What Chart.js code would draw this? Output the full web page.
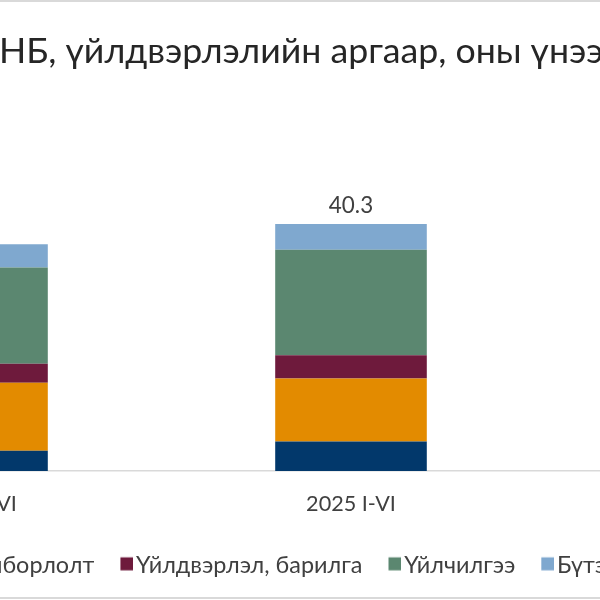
<!DOCTYPE html>
<html lang="mn">
<head>
<meta charset="utf-8">
<title>ДНБ, үйлдвэрлэлийн аргаар</title>
<script src="https://cdn.jsdelivr.net/npm/chart.js@4.4.1/dist/chart.umd.min.js"></script>
<style>
html,body{margin:0;padding:0;width:600px;height:600px;overflow:hidden;background:#fff;}
#c{position:absolute;top:0;}
.frame{position:absolute;left:0;width:600px;height:2px;background:#D9D9D9;}
</style>
</head>
<body>
<canvas id="c"></canvas>
<div class="frame" style="top:0"></div>
<div class="frame" style="top:597px"></div>
<script>
// ---------------- data ----------------
const categories = ['2024 I-VI', '2025 I-VI', ''];
const seriesNames = ['Хөдөө аж ахуй', 'Уул уурхай, олборлолт', 'Үйлдвэрлэл, барилга', 'Үйлчилгээ', 'Бүтээгдэхүүний цэвэр татвар'];
const agriculture   = [3.3, 4.8, null];
const mining        = [11.1, 10.3, null];
const manufacturing = [3.1, 3.8, null];
const services      = [15.7, 17.2, null];
const netTaxes      = [3.8, 4.2, null];
const titleText = 'ДНБ, үйлдвэрлэлийн аргаар, оны үнээр';
const yMin = 0, yMax = 50;

// ---------------- styles ----------------
const seriesValues = [agriculture, mining, manufacturing, services, netTaxes];
const seriesColors = ['#02386B', '#E38B00', '#6E1A3C', '#5B8770', '#7FA8CF'];
const textColor = '#404040', titleColor = '#262626';

// layout targets (page px)
const LT = {
  titleInkLeft: 2, titleVisibleInk: 600, titleCapCenter: 50.5,
  tickInk: 87, tickCenter: 503.5,
  totalInk: 43, totalGap: 19.8,
  legendInk: 225, legendCenter: 564.3, legendBoxCenter: 563.8,
  legendTextInk: [134.7, 406.8, 557.6],
  boxGap: 2.5, boxSize: 13,
  plotLeft: -217.5, plotRight: 919.5, plotTop: 164.5, plotBottom: 471, height: 600
};

// ---------------- font choice ----------------
function hasCyr(fam) {
  const c = document.createElement('canvas').getContext('2d');
  for (const ch of 'ДНБүйлдвэрҮөЭбг') {
    let same = true;
    for (const fb of ['monospace', 'serif']) {
      c.font = '60px ' + fb; const a = c.measureText(ch).width;
      c.font = '60px "' + fam + '", ' + fb; const b = c.measureText(ch).width;
      if (Math.abs(a - b) > 0.01) same = false;
    }
    if (same) return false;
  }
  return true;
}
const FAM = ['Lato', 'Roboto', 'Noto Sans', 'Open Sans', 'Liberation Sans'].find(hasCyr) || 'sans-serif';
const famCss = FAM === 'sans-serif' ? 'sans-serif' : '"' + FAM + '"';
const mctx = document.createElement('canvas').getContext('2d');
function setFont(size) { mctx.font = 'normal ' + size + 'px ' + famCss; }
function measure(text, size, baseline) { setFont(size); mctx.textBaseline = baseline || 'alphabetic'; const m = mctx.measureText(text); mctx.textBaseline = 'alphabetic'; return m; }
function ink(text, size) { const m = measure(text, size); return m.actualBoundingBoxLeft + m.actualBoundingBoxRight; }
function fit(text, target) { return 100 * target / ink(text, 100); }
function midOff(text, size) { const m = measure(text, size, 'middle'); return (m.actualBoundingBoxDescent - m.actualBoundingBoxAscent) / 2; }
function totalAt(i) { const v = seriesValues.map(s => s[i]); return v.some(x => x == null) ? null : v.reduce((a, b) => a + b, 0); }

// ---------------- sizes ----------------
const fsT = fit(titleText.slice(1, -1), LT.titleVisibleInk);
const fsX = fit(categories[1], LT.tickInk);
const totalLabel = totalAt(1).toFixed(1);
const fsD = fit(totalLabel, LT.totalInk);
const fsL = fit(seriesNames[2], LT.legendInk);

// title horizontal centre
setFont(fsT);
const Tw = mctx.measureText(titleText).width;
const wFirst = mctx.measureText(titleText[0]).width;
const ablSecond = mctx.measureText(titleText[1]).actualBoundingBoxLeft;
const C = (LT.titleInkLeft - wFirst + ablSecond) + Tw / 2;

// legend geometry
setFont(fsL);
const tw = seriesNames.map(s => mctx.measureText(s).width);
const abl = seriesNames.map(s => mctx.measureText(s).actualBoundingBoxLeft);
const w = tw.map(t => LT.boxSize + fsL / 2 + t);
const t3 = LT.legendTextInk[0] + abl[2], t4 = LT.legendTextInk[1] + abl[3], t5 = LT.legendTextInk[2] + abl[4];
const P = ((t4 - t3 - w[2]) + (t5 - t4 - w[3])) / 2;
const t3fit = (t3 + (t4 - w[2] - P) + (t5 - w[2] - w[3] - 2 * P)) / 3;
let X0 = t3fit - 3 * P - w[0] - w[1] - LT.boxSize - fsL / 2;
if (X0 > LT.plotLeft) X0 = LT.plotLeft;
const Lc = Math.round(X0);
let Wc = Math.round(2 * (C - Lc));
if (Lc + Wc < LT.plotRight) Wc = Math.ceil(LT.plotRight - Lc);
const yL = LT.plotLeft - Lc;
const yR = Lc + Wc - LT.plotRight;

// vertical geometry
const ymT = LT.titleCapCenter - midOff(titleText[1], fsT);
const titlePadTop = ymT - fsT / 2;
const titlePadBottom = LT.plotTop - fsT - titlePadTop;
const ymX = LT.tickCenter - midOff(categories[1].slice(0, 4), fsX);
const tickPad = ymX - fsX / 2 - LT.plotBottom;
const totalOffset = LT.totalGap + midOff(totalLabel, fsD);
const ymL = LT.legendCenter - midOff(seriesNames[2][0], fsL);
const legTop = ymL - fsL / 2 - P;
const legH = fsL + P + 10;
const padBottom = Math.max(0, LT.height - legTop - legH);
const xAxisH = legTop - LT.plotBottom;

// legend square images
const dy = LT.legendBoxCenter - ymL;
const Wi = Math.round(LT.boxSize + fsL - 2 * LT.boxGap);
const Hi = LT.boxSize + 2 * Math.ceil(Math.abs(dy)) + 2;
const sqTop = Hi / 2 + dy - LT.boxSize / 2;
function makeBox(color) {
  const c = document.createElement('canvas'); c.width = Wi; c.height = Hi;
  const g = c.getContext('2d'); g.fillStyle = color; g.fillRect(Wi - LT.boxSize, sqTop, LT.boxSize, LT.boxSize);
  return c;
}

// ---------------- chart ----------------
const totalsPlugin = {
  id: 'totals',
  afterDatasetsDraw(chart) {
    const ctx = chart.ctx, xs = chart.scales.x, ys = chart.scales.y;
    ctx.save();
    ctx.font = 'normal ' + fsD + 'px ' + famCss;
    ctx.fillStyle = textColor; ctx.textAlign = 'center'; ctx.textBaseline = 'middle';
    categories.forEach((cat, i) => {
      const total = totalAt(i);
      if (total == null) return;
      ctx.fillText(total.toFixed(1), xs.getPixelForValue(i), ys.getPixelForValue(total) - totalOffset);
    });
    ctx.restore();
  }
};

const datasets = seriesNames.map((name, i) => ({
  label: name,
  data: seriesValues[i],
  backgroundColor: seriesColors[i],
  borderWidth: 0,
  pointStyle: makeBox(seriesColors[i]),
  barPercentage: 0.4,
  categoryPercentage: 1.0
}));

const cv = document.getElementById('c');
cv.width = Wc; cv.height = LT.height;
cv.style.left = Lc + 'px'; cv.style.width = Wc + 'px'; cv.style.height = LT.height + 'px';

new Chart(cv, {
  type: 'bar',
  data: { labels: categories, datasets },
  plugins: [totalsPlugin],
  options: {
    responsive: false, animation: false, events: [],
    layout: { padding: { left: 0, right: 0, top: 0, bottom: padBottom } },
    plugins: {
      title: { display: true, text: titleText, align: 'center', color: titleColor,
               font: { family: famCss, size: fsT, weight: 'normal', lineHeight: 1 },
               padding: { top: titlePadTop, bottom: titlePadBottom } },
      legend: { display: true, position: 'bottom', align: 'start',
                labels: { usePointStyle: true, boxWidth: LT.boxSize, padding: P, color: textColor,
                          font: { family: famCss, size: fsL, lineHeight: 1 } } },
      tooltip: { enabled: false }
    },
    scales: {
      x: { type: 'category', stacked: true, offset: true,
           grid: { display: false, drawTicks: false },
           border: { display: true, color: '#D9D9D9', width: 1.5 },
           ticks: { color: textColor, padding: tickPad, maxRotation: 0, autoSkip: false,
                    font: { family: famCss, size: fsX, lineHeight: 1 } },
           afterFit: s => { s.height = xAxisH; } },
      y: { type: 'linear', stacked: true, position: 'left', min: yMin, max: yMax,
           grid: { display: false, drawTicks: false }, border: { display: false }, ticks: { display: false },
           afterFit: s => { s.width = yL; } },
      y2: { type: 'linear', position: 'right', display: true,
            grid: { display: false, drawTicks: false }, border: { display: false }, ticks: { display: false },
            afterFit: s => { s.width = yR; } }
    }
  }
});
</script>
</body>
</html>
